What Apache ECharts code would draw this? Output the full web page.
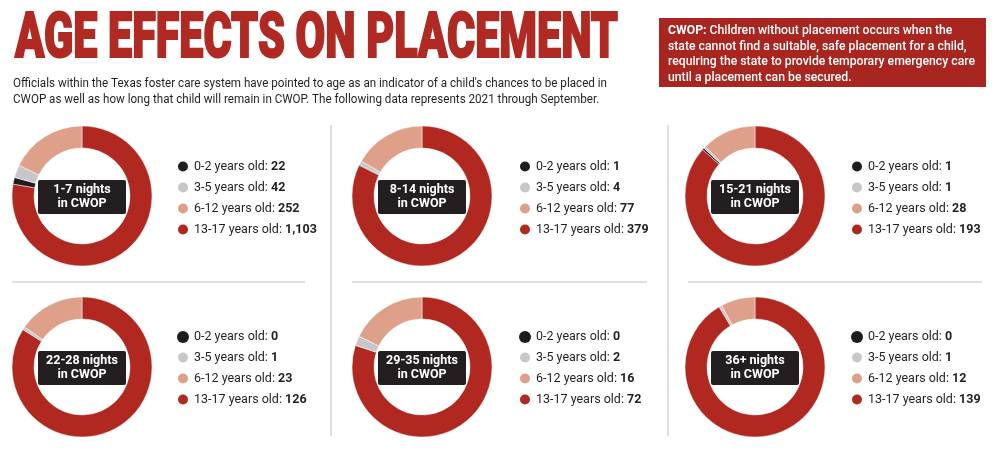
<!DOCTYPE html>
<html>
<head>
<meta charset="utf-8">
<title>Age effects on placement</title>
<script src="https://cdn.jsdelivr.net/npm/echarts@6/dist/echarts.min.js"></script>
<style>
  html, body { margin: 0; padding: 0; background: #fff; }
  #main { width: 1000px; height: 457px; }
</style>
</head>
<body>
<div id="main"></div>
<script>
// 数据
var stays = ['1-7 nights', '8-14 nights', '15-21 nights', '22-28 nights', '29-35 nights', '36+ nights'];
var ages = ['0-2 years old', '3-5 years old', '6-12 years old', '13-17 years old'];
var age0to2 = [22, 1, 1, 0, 0, 0];
var age3to5 = [42, 4, 1, 1, 2, 1];
var age6to12 = [252, 77, 28, 23, 16, 12];
var age13to17 = [1103, 379, 193, 126, 72, 139];

var colors = ['#1f1c1d', '#c7c7c9', '#dea089', '#b0281f'];
var ink = '#231f20';
var font = 'Roboto, "Noto Sans", sans-serif';

// 布局
var colX = [82, 422, 755];
var rowY = [196, 367];
var legendX = [182, 524, 856];

var measure = document.createElement('canvas').getContext('2d');
function textWidth(str, f) {
    measure.font = f;
    return measure.measureText(str).width;
}

var series = [];
var legends = [];
var graphics = [];

stays.forEach(function (stay, i) {
    var col = i % 3, row = Math.floor(i / 3);
    var cx = colX[col], cy = rowY[row];
    var values = [age0to2[i], age3to5[i], age6to12[i], age13to17[i]];
    var names = ages.map(function (a, j) { return a + ': ' + values[j].toLocaleString('en-US'); });
    var items = names.map(function (n, j) {
        return { name: n, value: values[j], itemStyle: { color: colors[j], borderWidth: values[j] ? 0.5 : 0 } };
    });
    // 从12点开始顺时针: 13-17, 0-2, 3-5, 6-12
    series.push({
        type: 'pie',
        center: [cx, cy],
        radius: [48, 70],
        startAngle: 90,
        clockwise: true,
        label: { show: false },
        labelLine: { show: false },
        emphasis: { disabled: true },
        itemStyle: { borderColor: '#fff' },
        data: [items[3], items[0], items[1], items[2]]
    });
    legends.push({
        orient: 'vertical',
        left: legendX[col] - 6,
        top: cy - 36.5,
        padding: 0,
        itemWidth: 12,
        itemHeight: 12,
        itemGap: 7,
        icon: 'circle',
        selectedMode: false,
        data: names,
        formatter: function (name) {
            var k = name.lastIndexOf(': ');
            return '{a|' + name.slice(0, k + 1) + '} {b|' + name.slice(k + 2) + '}';
        },
        textStyle: {
            fontFamily: font, fontSize: 12.5, color: ink, lineHeight: 12,
            rich: {
                a: { fontFamily: font, fontSize: 12.5, color: ink, lineHeight: 12 },
                b: { fontFamily: font, fontSize: 12.5, color: ink, fontWeight: 'bold', lineHeight: 12 }
            }
        }
    });
    // 中间的黑色标签
    graphics.push({
        type: 'group',
        children: [
            { type: 'rect', shape: { x: cx - 44, y: cy - 16, width: 88, height: 34, r: 2 }, style: { fill: ink } },
            {
                type: 'text', x: cx, y: cy + 1,
                style: {
                    text: stay + '\nin CWOP', fill: '#fff', align: 'center', verticalAlign: 'middle',
                    font: 'bold 12.5px ' + font, lineHeight: 14
                }
            }
        ]
    });
});

// 分隔线
var lineStyle = { stroke: '#d6d6d6', lineWidth: 1.5 };
[[12, 305], [352, 647], [688, 982]].forEach(function (s) {
    graphics.push({ type: 'line', shape: { x1: s[0], y1: 282, x2: s[1], y2: 282 }, style: lineStyle });
});
[331, 668].forEach(function (x) {
    graphics.push({ type: 'line', shape: { x1: x, y1: 125, x2: x, y2: 436 }, style: lineStyle });
});

// 标题
var titleText = 'AGE EFFECTS ON PLACEMENT';
var titleFont = '900 63px ' + font;
graphics.push({
    type: 'text', x: 15, y: 16,
    scaleX: 603 / textWidth(titleText, titleFont),
    style: {
        text: titleText, font: titleFont, fill: '#b02a23',
        stroke: '#b02a23', lineWidth: 2, verticalAlign: 'top', lineHeight: 50
    }
});

// 副标题
var subLines = [
    "Officials within the Texas foster care system have pointed to age as an indicator of a child's chances to be placed in",
    "CWOP as well as how long that child will remain in CWOP. The following data represents 2021 through September."
];
var subFont = '12px ' + font;
graphics.push({
    type: 'text', x: 13, y: 76,
    scaleX: 594 / textWidth(subLines[0], subFont),
    style: { text: subLines.join('\n'), font: subFont, fill: ink, lineHeight: 16, verticalAlign: 'top' }
});

// 右上角说明框
var noteLines = [
    'Children without placement occurs when the',
    'state cannot find a suitable, safe placement for a child,',
    'requiring the state to provide temporary emergency care',
    'until a placement can be secured.'
];
var noteFont = '500 12px ' + font;
graphics.push({ type: 'rect', shape: { x: 659, y: 18, width: 327, height: 69 }, style: { fill: '#a9251f' } });
graphics.push({
    type: 'text', x: 668, y: 23.5,
    scaleX: 307 / textWidth(noteLines[2], noteFont),
    style: {
        text: '{b|CWOP:} ' + noteLines.join('\n'),
        font: noteFont, fill: '#fff', lineHeight: 15.5, verticalAlign: 'top',
        rich: { b: { font: 'bold 12px ' + font, fill: '#fff', lineHeight: 15.5 } }
    }
});

var myChart = echarts.init(document.getElementById('main'), null, { renderer: 'canvas' });
myChart.setOption({
    backgroundColor: '#fff',
    animation: false,
    legend: legends,
    series: series,
    graphic: { elements: graphics }
});
</script>
</body>
</html>
